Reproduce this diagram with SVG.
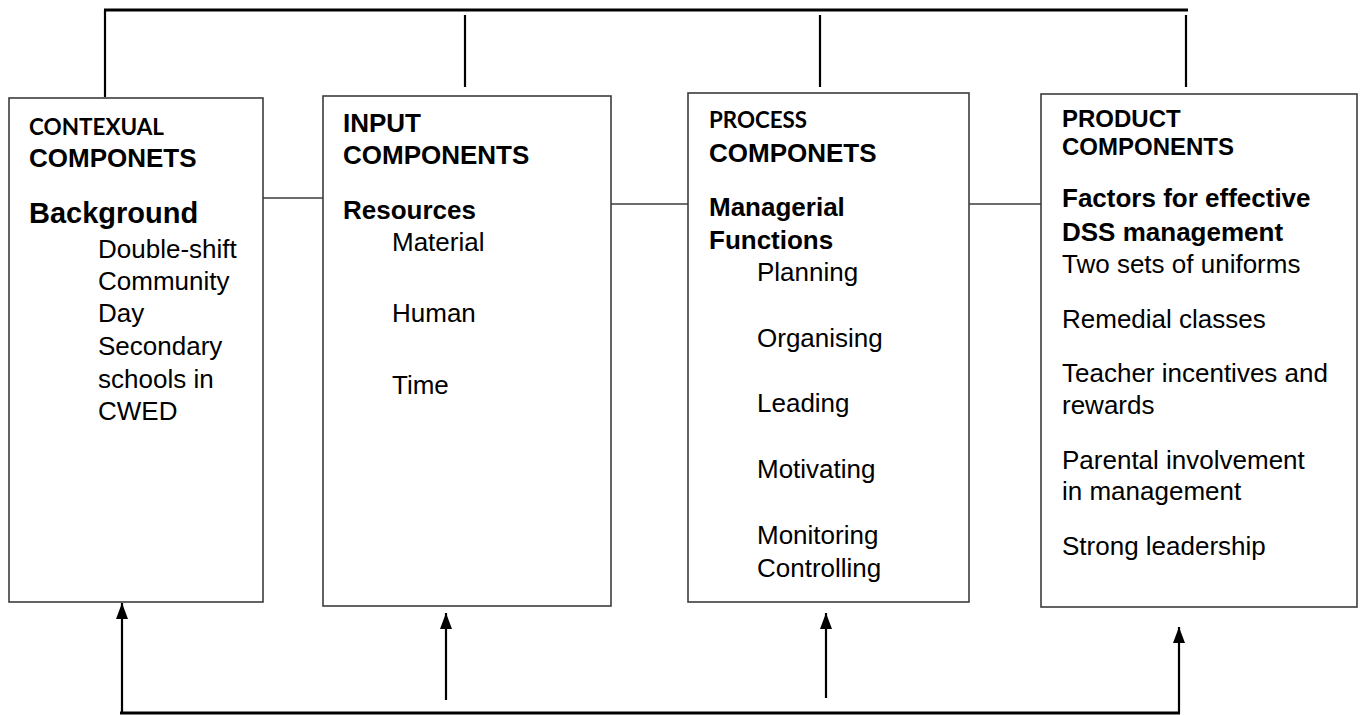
<svg xmlns="http://www.w3.org/2000/svg" width="1362" height="715" viewBox="0 0 1362 715">
<defs>
<style>
.box{fill:#fff;stroke:#3c3c3c;stroke-width:1.6}
.link{stroke:#3c3c3c;stroke-width:1.3;fill:none}
.bar{stroke:#000;stroke-width:3;fill:none}
.stem{stroke:#000;stroke-width:2.2;fill:none}
.h{font-family:"Liberation Sans",Arial,sans-serif;font-weight:bold;font-size:26px;fill:#000}
.c{font-family:Lato,"Open Sans",sans-serif;font-weight:bold;font-size:23px;fill:#000}
.t{font-family:"Liberation Sans",Arial,sans-serif;font-size:26px;fill:#000}
</style>
<marker id="ah" markerUnits="userSpaceOnUse" viewBox="0 0 16 12" refX="16" refY="6" markerWidth="16" markerHeight="12" orient="auto">
<path d="M0,0 L16,6 L0,12 Z" fill="#000"/>
</marker>
</defs>
<rect width="1362" height="715" fill="#fff"/>

<g id="connectors">
<line class="bar" x1="104" y1="10" x2="1188" y2="10"/>
<line class="stem" x1="105" y1="10" x2="105" y2="97"/>
<line class="stem" x1="465" y1="15" x2="465" y2="87"/>
<line class="stem" x1="820" y1="15" x2="820" y2="87"/>
<line class="stem" x1="1186" y1="15" x2="1186" y2="87"/>
<line class="link" x1="263" y1="198" x2="323" y2="198"/>
<line class="link" x1="611" y1="204" x2="688" y2="204"/>
<line class="link" x1="969" y1="204" x2="1041" y2="204"/>
<line class="bar" x1="120" y1="713" x2="1180" y2="713"/>
<line class="stem" x1="122" y1="713" x2="122" y2="603" marker-end="url(#ah)"/>
<line class="stem" x1="446" y1="700" x2="446" y2="613" marker-end="url(#ah)"/>
<line class="stem" x1="826" y1="698" x2="826" y2="613" marker-end="url(#ah)"/>
<line class="stem" x1="1179" y1="713" x2="1179" y2="627" marker-end="url(#ah)"/>
</g>

<g id="contextual">
<rect class="box" x="9" y="98" width="254" height="504"/>
<text class="c" x="29" y="135" textLength="135" lengthAdjust="spacingAndGlyphs">CONTEXUAL</text>
<text class="h" x="29" y="167">COMPONETS</text>
<text class="h" x="29" y="223" style="font-size:29px">Background</text>
<text class="t" x="98" y="258">Double-shift</text>
<text class="t" x="98" y="290">Community</text>
<text class="t" x="98" y="322">Day</text>
<text class="t" x="98" y="355">Secondary</text>
<text class="t" x="98" y="388">schools in</text>
<text class="t" x="98" y="420">CWED</text>
</g>

<g id="input">
<rect class="box" x="323" y="96" width="288" height="510"/>
<text class="h" x="343" y="132">INPUT</text>
<text class="h" x="343" y="164">COMPONENTS</text>
<text class="h" x="343" y="219">Resources</text>
<text class="t" x="392" y="251">Material</text>
<text class="t" x="392" y="322">Human</text>
<text class="t" x="392" y="394">Time</text>
</g>

<g id="process">
<rect class="box" x="688" y="93" width="281" height="509"/>
<text class="c" x="709" y="128" textLength="98" lengthAdjust="spacingAndGlyphs">PROCESS</text>
<text class="h" x="709" y="162">COMPONETS</text>
<text class="h" x="709" y="216">Managerial</text>
<text class="h" x="709" y="249">Functions</text>
<text class="t" x="757" y="281">Planning</text>
<text class="t" x="757" y="347">Organising</text>
<text class="t" x="757" y="412">Leading</text>
<text class="t" x="757" y="478">Motivating</text>
<text class="t" x="757" y="544">Monitoring</text>
<text class="t" x="757" y="577">Controlling</text>
</g>

<g id="product">
<rect class="box" x="1041" y="94" width="316" height="513"/>
<text class="h" x="1062" y="127" style="font-size:24px">PRODUCT</text>
<text class="h" x="1062" y="155" style="font-size:24px">COMPONENTS</text>
<text class="h" x="1062" y="207">Factors for effective</text>
<text class="h" x="1062" y="241">DSS management</text>
<text class="t" x="1062" y="273">Two sets of uniforms</text>
<text class="t" x="1062" y="328">Remedial classes</text>
<text class="t" x="1062" y="382">Teacher incentives and</text>
<text class="t" x="1062" y="414">rewards</text>
<text class="t" x="1062" y="469">Parental involvement</text>
<text class="t" x="1062" y="500">in management</text>
<text class="t" x="1062" y="555">Strong leadership</text>
</g>
</svg>
